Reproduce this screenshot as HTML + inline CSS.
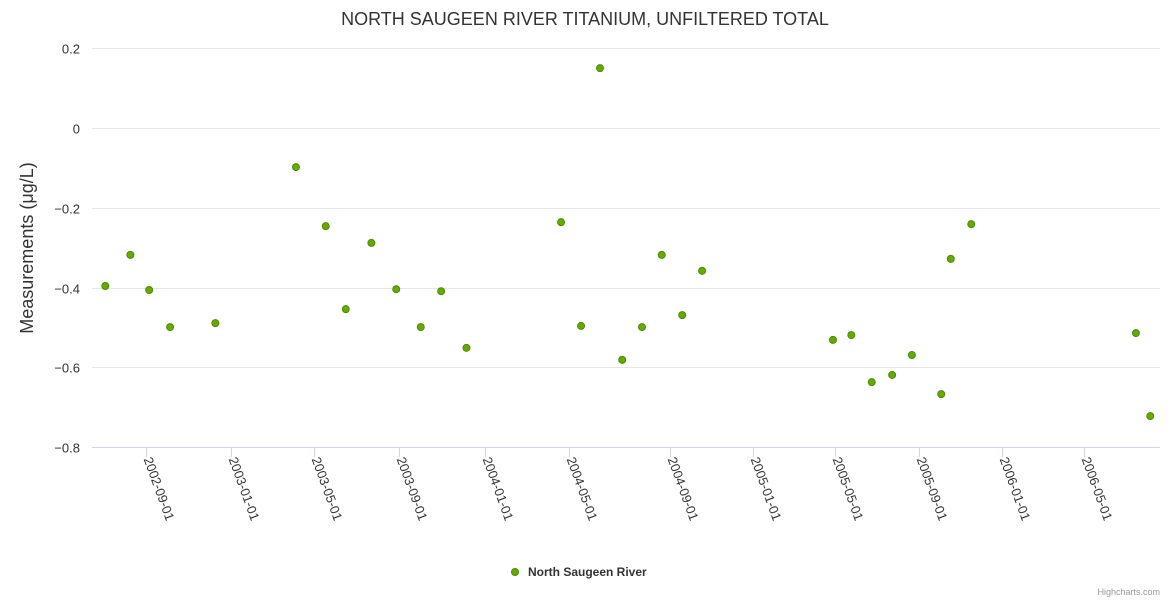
<!DOCTYPE html>
<html><head><meta charset="utf-8"><style>
body{margin:0;background:#fff;font-family:"Liberation Sans","DejaVu Sans",sans-serif;}
svg text{font-family:"Liberation Sans","DejaVu Sans",sans-serif;}
</style></head><body>
<svg id="chart" width="1170" height="600" xmlns="http://www.w3.org/2000/svg">
<rect width="1170" height="600" fill="#fff"/>
<text x="585" y="25" text-anchor="middle" font-size="18" fill="#333">NORTH SAUGEEN RIVER TITANIUM, UNFILTERED TOTAL</text>
<text transform="translate(33,248) rotate(-90)" text-anchor="middle" font-size="18" fill="#333">Measurements (μg/L)</text>
<g id="grid"></g><g id="xaxis"></g><g id="points"></g>
<g>
<circle cx="515" cy="572" r="3.5" fill="#66aa00" stroke="#4d8a00" stroke-width="1"/>
<text x="528" y="576" font-size="12" font-weight="bold" fill="#333">North Saugeen River</text>
</g>
<text x="1160" y="595" text-anchor="end" font-size="9" fill="#999">Highcharts.com</text>
</svg>
<script>
const yTicks=[0.2,0,-0.2,-0.4,-0.6,-0.8];
const xTickLabels=["2002-09-01","2003-01-01","2003-05-01","2003-09-01","2004-01-01","2004-05-01","2004-09-01","2005-01-01","2005-05-01","2005-09-01","2006-01-01","2006-05-01"];
const dates=["2002-07-05","2002-08-10","2002-09-06","2002-10-06","2002-12-10","2003-04-05","2003-05-18","2003-06-16","2003-07-23","2003-08-28","2003-10-02","2003-10-31","2003-12-06","2004-04-20","2004-05-16","2004-06-08","2004-07-05","2004-07-29","2004-08-22","2004-09-19","2004-10-18","2005-04-28","2005-05-25","2005-06-24","2005-07-24","2005-08-22","2005-10-04","2005-10-18","2005-11-17","2006-07-16","2006-08-06"];
const values=[-0.396,-0.318,-0.406,-0.499,-0.489,-0.098,-0.246,-0.454,-0.288,-0.404,-0.499,-0.409,-0.551,-0.236,-0.496,0.150,-0.581,-0.499,-0.318,-0.469,-0.358,-0.531,-0.519,-0.637,-0.619,-0.569,-0.667,-0.328,-0.241,-0.514,-0.722];
const NS="http://www.w3.org/2000/svg";
// axis calibration: pixel location of each tick on screen
const tickPx=[145.7,230.7,314,399,484.7,568.7,670,753.3,835,918.7,1002,1084];
const tickT=xTickLabels.map(d=>Date.parse(d));
function xs(d){
  const t=Date.parse(d);
  let i=0;
  if(t<=tickT[0]) i=0;
  else if(t>=tickT[tickT.length-1]) i=tickT.length-2;
  else {while(t>tickT[i+1]) i++;}
  return tickPx[i]+(t-tickT[i])/(tickT[i+1]-tickT[i])*(tickPx[i+1]-tickPx[i]);
}
function ys(v){return 128-v*399;}
function mk(tag,at,parent){const e=document.createElementNS(NS,tag);for(const k in at)e.setAttribute(k,at[k]);parent.appendChild(e);return e;}
const grid=document.getElementById('grid');
yTicks.forEach(v=>{
  const y=Math.round(ys(v))+0.5;
  if(v!==-0.8){const l=mk('line',{x1:92,x2:1160,y1:y,y2:y,stroke:'#e6e6e6'},grid);
  
  }
  const t=mk('text',{x:80,y:y+5,'text-anchor':'end','font-size':'13',fill:'#333'},grid);
  t.textContent=(v===0?'0':(v<0?'−'+Math.abs(v).toFixed(1):v.toFixed(1)));
  
  
});
const xa=document.getElementById('xaxis');
const ax=mk('line',{x1:92,x2:1160,y1:447.5,y2:447.5,stroke:'#ccd6eb'},xa);


xTickLabels.forEach(d=>{
  const x=Math.round(xs(d))+0.5;
  const tk=mk('line',{x1:x,x2:x,y1:447,y2:457,stroke:'#ccd6eb'},xa);
  
  
  const t=mk('text',{transform:`translate(${x-3},${459}) rotate(70)`,'font-size':'13',fill:'#333'},xa);
  t.textContent=d;
  
  
});
const pg=document.getElementById('points');
dates.forEach((d,i)=>{
  const c=mk('circle',{cx:xs(d),cy:ys(values[i]),r:3.5,fill:'#66aa00',stroke:'#4d8a00','stroke-width':1},pg);
  
  
});
</script>
</body></html>
